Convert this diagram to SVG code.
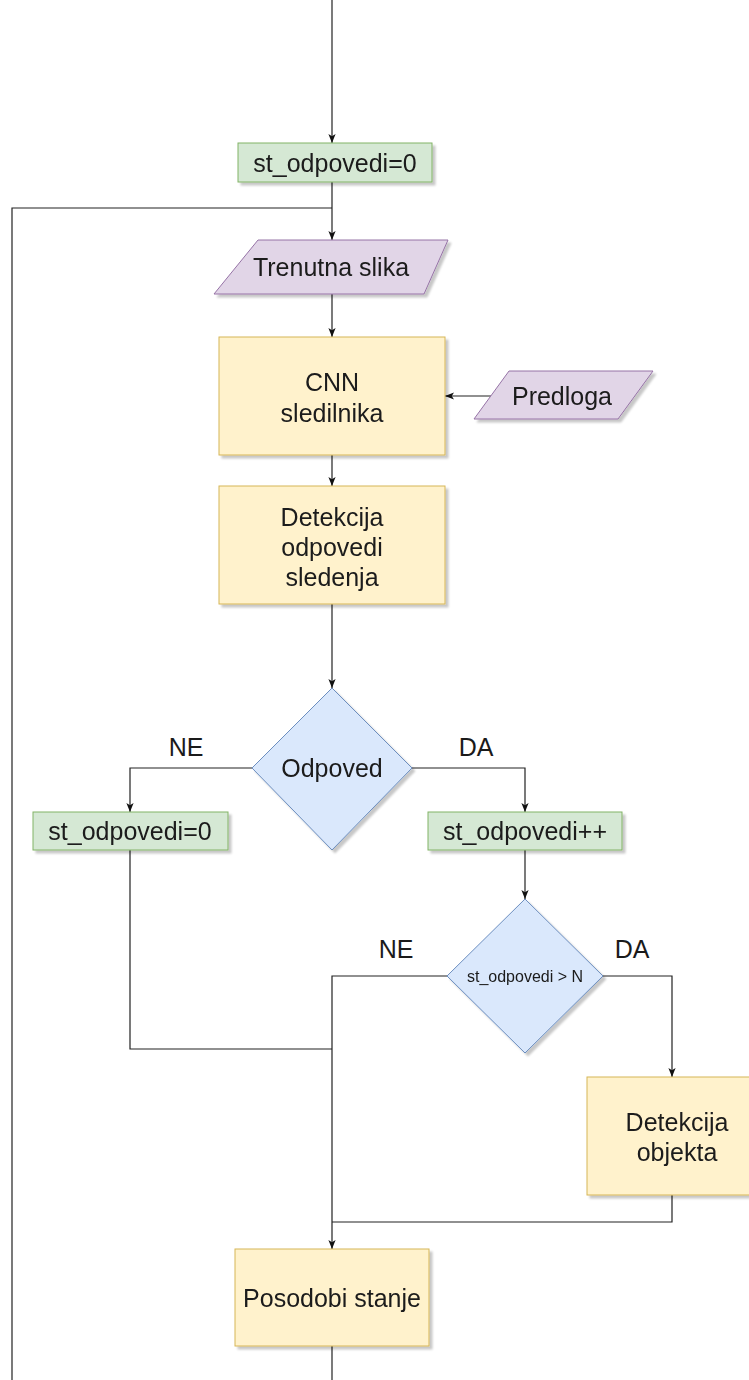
<svg xmlns="http://www.w3.org/2000/svg" width="749" height="1380" viewBox="0 0 749 1380">
<style>
.t{font-family:"Liberation Sans",Arial,sans-serif;font-size:25px;fill:#1a1a1a;text-anchor:middle;dominant-baseline:central}
.s{font-size:16px}
.g{fill:#d5e8d4;stroke:#82b366;stroke-width:1}
.p{fill:#e1d5e7;stroke:#9673a6;stroke-width:1}
.y{fill:#fff2cc;stroke:#d6b656;stroke-width:1}
.b{fill:#dae8fc;stroke:#6c8ebf;stroke-width:1}
.c{fill:none;stroke:#222;stroke-width:1.2}
.a{marker-end:url(#arr)}
</style>
<defs>
<filter id="sh" x="-10%" y="-10%" width="130%" height="130%">
<feDropShadow dx="3" dy="3" stdDeviation="1" flood-color="#000" flood-opacity="0.22"/>
</filter>
<marker id="arr" viewBox="0 0 10 10" refX="10" refY="5" markerWidth="9" markerHeight="9" markerUnits="userSpaceOnUse" orient="auto">
<path d="M0,1 L10,5 L0,9 L2.5,5 Z" fill="#111"/>
</marker>
</defs>
<rect width="749" height="1380" fill="#fff"/>
<g id="connectors">
<path class="c a" d="M332,0 V143"/>
<path class="c" d="M332,182 V208"/>
<path class="c a" d="M332,208 V240"/>
<path class="c" d="M332,208 H12 V1380"/>
<path class="c a" d="M332,294 V337"/>
<path class="c a" d="M491,396 H445"/>
<path class="c a" d="M332,455 V486"/>
<path class="c a" d="M332,604 V688"/>
<path class="c a" d="M252,768 H130 V812"/>
<path class="c a" d="M412,768 H525 V812"/>
<path class="c a" d="M525,850 V899"/>
<path class="c" d="M130,850 V1049 H332"/>
<path class="c a" d="M447,976 H332 V1249"/>
<path class="c a" d="M603,976 H672 V1077"/>
<path class="c" d="M672,1195 V1222 H332"/>
<path class="c" d="M332,1346 V1380"/>
</g>
<g id="n_init" filter="url(#sh)">
<rect class="g" x="238" y="143" width="194" height="39"/>
<text class="t" x="335" y="163">st_odpovedi=0</text>
</g>
<g id="n_trenutna" filter="url(#sh)">
<polygon class="p" points="258,240 448,240 424,294 214,294"/>
<text class="t" x="331" y="267">Trenutna slika</text>
</g>
<g id="n_cnn" filter="url(#sh)">
<rect class="y" x="219" y="337" width="226" height="118"/>
<text class="t" x="332" y="382">CNN</text>
<text class="t" x="332" y="413">sledilnika</text>
</g>
<g id="n_predloga" filter="url(#sh)">
<polygon class="p" points="509,371 653,371 618,419 474,419"/>
<text class="t" x="562" y="396">Predloga</text>
</g>
<g id="n_detekcija" filter="url(#sh)">
<rect class="y" x="219" y="486" width="226" height="118"/>
<text class="t" x="332" y="517">Detekcija</text>
<text class="t" x="332" y="547">odpovedi</text>
<text class="t" x="332" y="577">sledenja</text>
</g>
<g id="n_odpoved" filter="url(#sh)">
<polygon class="b" points="332,688 412,768 332,850 252,768"/>
<text class="t" x="332" y="768">Odpoved</text>
</g>
<g id="l_ne1"><text class="t" x="186" y="747">NE</text></g>
<g id="l_da1"><text class="t" x="476" y="747">DA</text></g>
<g id="n_reset" filter="url(#sh)">
<rect class="g" x="33" y="812" width="195" height="38"/>
<text class="t" x="130" y="831">st_odpovedi=0</text>
</g>
<g id="n_inc" filter="url(#sh)">
<rect class="g" x="428" y="812" width="194" height="38"/>
<text class="t" x="525" y="831">st_odpovedi++</text>
</g>
<g id="n_cond" filter="url(#sh)">
<polygon class="b" points="525,899 603,976 525,1053 447,976"/>
<text class="t s" x="525" y="976">st_odpovedi &gt; N</text>
</g>
<g id="l_ne2"><text class="t" x="396" y="949">NE</text></g>
<g id="l_da2"><text class="t" x="632" y="949">DA</text></g>
<g id="n_objekt" filter="url(#sh)">
<rect class="y" x="587" y="1077" width="180" height="118"/>
<text class="t" x="677" y="1122">Detekcija</text>
<text class="t" x="677" y="1152">objekta</text>
</g>
<g id="n_posodobi" filter="url(#sh)">
<rect class="y" x="235" y="1249" width="194" height="97"/>
<text class="t" x="332" y="1298">Posodobi stanje</text>
</g>
</svg>
